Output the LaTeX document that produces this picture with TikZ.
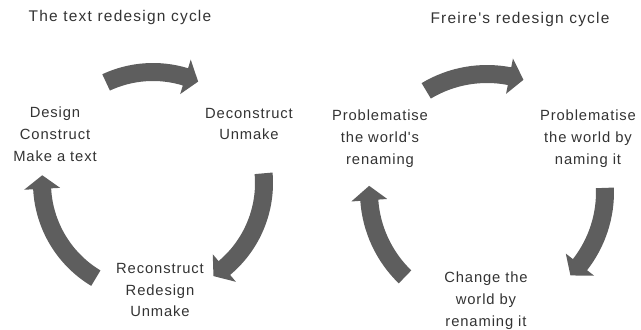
\documentclass[tikz,border=0pt]{standalone}
\usepackage{fontspec}
\setmainfont{Liberation Sans}
\newfontfamily\titlefont[LetterSpace=8]{Liberation Sans}
\newfontfamily\stagefont[LetterSpace=6]{Liberation Sans}
\definecolor{textgray}{HTML}{333333}
\definecolor{arrowgray}{HTML}{5E5E5E}
% thick curved arrow on a circle: centre, radius, from angle, to angle
\newcommand{\cyclearrow}[4]{%
  \fill[arrowfill,shift={(#1)}]
    (#3:#2+9) arc[start angle=#3, end angle=#4+7, radius=#2+9]
    -- (#4+7:#2+18) -- (#4:#2) -- (#4+7:#2-18) -- (#4+7:#2-9)
    arc[start angle=#4+7, end angle=#3, radius=#2-9] -- cycle;}
\tikzset{
  arrowfill/.style={fill=arrowgray},
  stage/.style={align=center,text=textgray,inner sep=0pt,
    font=\stagefont\fontsize{10.5}{15.6}\selectfont},
  heading/.style={text=textgray,inner sep=0pt,
    font=\titlefont\fontsize{11}{13}\selectfont}}
\begin{document}
\begin{tikzpicture}[x=0.025cm,y=0.025cm]
    \useasboundingbox (0,0) rectangle (641,330);

    % text redesign cycle
    \node[heading] (title-text) at (120,312) {The text redesign cycle};
    \coordinate (text-centre) at (153,147);
    \node[stage] (design) at (55,196) {Design\\Construct\\Make a text};
    \node[stage] (deconstruct) at (249,206) {Deconstruct\\Unmake};
    \node[stage] (reconstruct) at (160,40) {Reconstruct\\Redesign\\Unmake};
    \cyclearrow{text-centre}{111}{115}{66}
    \cyclearrow{text-centre}{111}{5}{-57}
    \cyclearrow{text-centre}{111}{239}{176}

    % Freire's redesign cycle
    \node[heading] (title-freire) at (520,310) {Freire's redesign cycle};
    \coordinate (freire-centre) at (487,138);
    \node[stage] (renaming) at (380,191) {Problematise\\the world's\\renaming};
    \node[stage] (naming) at (588,191) {Problematise\\the world by\\naming it};
    \node[stage] (change) at (486,29) {Change the\\world by\\renaming it};
    \cyclearrow{freire-centre}{118}{121}{72}
    \cyclearrow{freire-centre}{118}{2}{-45}
    \cyclearrow{freire-centre}{118}{226}{177}
\end{tikzpicture}
\end{document}
